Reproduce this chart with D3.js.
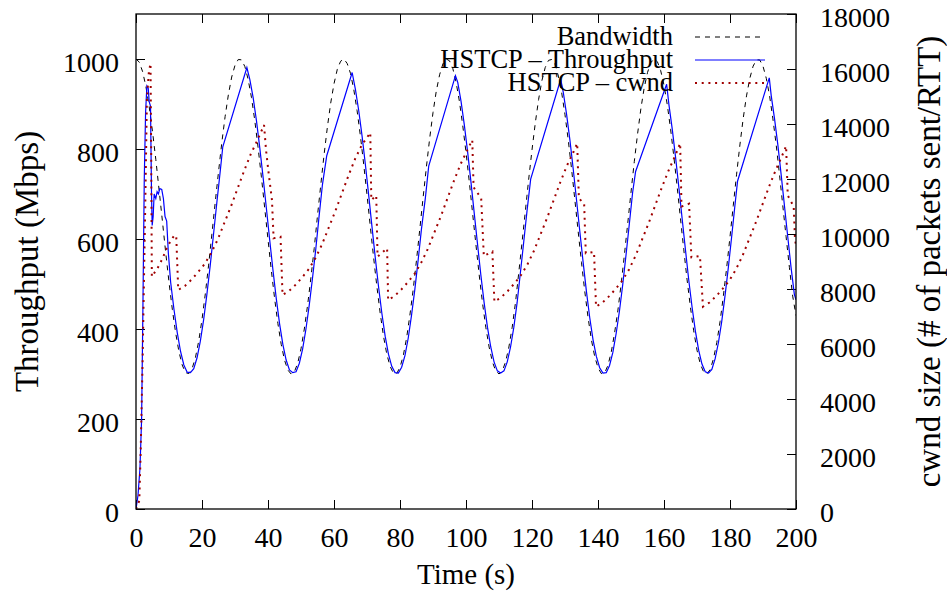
<!DOCTYPE html>
<html>
<head>
<meta charset="utf-8">
<script src="https://cdnjs.cloudflare.com/ajax/libs/d3/7.8.5/d3.min.js"></script>
<style>
    body { margin: 0; background: #fff; }
    text { font-family: "Liberation Serif", "Times New Roman", serif; fill: #000; }
</style>
</head>
<body>
<div id="chart"></div>
<script>
// bandwidth (Mbps), one value per second from t = 0 to t = 200
const bandwidth = [1000,993,972,939,894,839,777,709,640,570,504,444,392,350,320,303,301,312,336,373,421,478,542,611,681,749,814,872,921,960,986,999,
    998,983,954,914,863,803,738,669,599,531,468,412,366,331,309,300,305,324,356,400,453,514,579,652,721,788,849,902,945,977,995,
    1000,990,968,932,885,829,766,698,628,559,494,435,384,344,317,302,301,315,341,380,431,488,553,622,692,760,824,881,929,965,989,1000,
    996,979,948,906,853,793,727,657,588,520,458,404,360,327,307,300,307,327,360,404,459,526,594,663,733,798,858,910,952,981,997,
    999,988,962,925,876,819,755,686,616,548,483,425,376,339,314,301,302,319,348,390,440,499,565,634,704,772,834,890,936,970,992,1000,
    994,974,942,898,844,782,715,645,576,509,449,396,353,322,305,300,310,334,370,417,474,537,605,675,744,809,868,918,957,984,998,
    998,984,957,918,867,809,743,674,605,537,473,430];

// HSTCP throughput (Mbps): [time (s), value]
const throughput = [
    [0,0],[0.6,30],[1.2,90],[1.7,200],[2.1,450],[2.5,730],[2.9,880],[3.3,940],[3.7,935],[4.0,905],[4.4,895],[4.7,700],[4.9,630],[5.2,650],[5.5,700],[6.0,690],[6.4,705],[6.8,700],[7.2,712],[7.8,710],[8.3,690],[8.8,650],[9.3,640],[9.8,569],
    [10.5,504],[11.5,444],[12.5,392],[13.5,350],[14.5,320],[15.5,304],[16.5,303],[17.5,312],[18.5,336],[19.5,373],[20.5,421],[21.5,478],[22.5,542],[23.5,611],[24.5,681],[25.5,749],[26.3,805],
    [33.6,981],[34.5,954],[35.5,914],[36.5,863],[37.5,803],[38.5,738],[39.5,669],[40.5,599],[41.5,531],[42.5,468],[43.5,412],[44.5,366],[45.5,331],[46.5,309],[47.5,303],[48.5,305],[49.5,324],[50.5,356],[51.5,400],[52.5,453],[53.5,514],[54.5,579],[55.5,652],[56.5,721],[57.8,785],
    [65.5,970],[66.5,932],[67.5,885],[68.5,829],[69.5,766],[70.5,698],[71.5,628],[72.5,559],[73.5,494],[74.5,435],[75.5,384],[76.5,344],[77.5,317],[78.5,303],[79.5,302],[80.5,315],[81.5,341],[82.5,380],[83.5,431],[84.5,488],[85.5,553],[86.5,622],[87.7,692],[88.7,762],
    [96.8,963],[97.5,948],[98.5,906],[99.5,853],[100.5,793],[101.5,727],[102.5,657],[103.5,588],[104.5,520],[105.5,458],[106.5,404],[107.5,360],[108.5,327],[109.5,307],[110.5,302],[111.5,307],[112.5,327],[113.5,360],[114.5,404],[115.5,459],[116.5,526],[117.5,594],[118.5,663],[119.6,733],
    [128.7,955],[129.5,925],[130.5,876],[131.5,819],[132.5,755],[133.5,686],[134.5,616],[135.5,548],[136.5,483],[137.5,425],[138.5,376],[139.5,339],[140.5,314],[141.5,302],[142.5,303],[143.5,319],[144.5,348],[145.5,390],[146.5,440],[147.5,499],[148.5,565],[149.5,634],[150.5,704],[151.4,750],
    [160.8,944],[161.5,898],[162.5,844],[163.5,782],[164.5,715],[165.5,645],[166.5,576],[167.5,509],[168.5,449],[169.5,396],[170.5,353],[171.5,322],[172.5,305],[173.5,302],[174.5,310],[175.5,334],[176.5,370],[177.5,417],[178.5,474],[179.5,537],[180.5,605],[181.5,675],[182.3,729],
    [191.9,958],[192.5,918],[193.5,867],[194.5,809],[195.5,743],[196.5,674],[197.5,605],[198.5,537],[199.5,477],[200,465]
];

// HSTCP cwnd (packets sent / RTT): [time (s), value]
const cwnd = [
    [0,0],[1.0,300],[1.4,2000],[2.0,5400],[2.8,11000],[3.3,14900],[3.9,15900],[4.4,16200],[4.6,13000],[4.8,8450],[6.5,8750],[8,9100],[9.3,9480],[10.5,9750],[11.7,9964],[12.2,9900],
    [12.8,7964],[14.8,8110],[16.8,8340],[18.8,8610],[20.8,8910],[22.8,9310],[24.8,9810],[26.8,10410],[28.8,11010],[30.8,11660],[32.8,12310],[34.8,12910],[36.8,13410],[38.8,13964],
    [39.4,13054],[40.2,12207],[41.2,11236],[41.7,9843],[43.8,9900],
    [44.4,7782],[46.4,7930],[48.4,8160],[50.4,8430],[52.4,8730],[54.4,9130],[56.4,9630],[58.4,10230],[60.4,10830],[62.4,11480],[64.4,12130],[66.4,12730],[68.4,13230],[71.0,13684],
    [71.3,11236],[72.8,11400],[73.2,9176],[76.1,9480],
    [76.4,7600],[78.4,7750],[80.4,7980],[82.4,8250],[84.4,8550],[86.4,8950],[88.4,9450],[90.4,10050],[92.4,10650],[94.4,11300],[96.4,11950],[98.4,12550],[100.4,13050],[101.9,13418],
    [102.3,11700],[104.6,11300],[105.4,9200],[108.0,9357],
    [108.6,7538],[110.6,7690],[112.6,7920],[114.6,8190],[116.6,8490],[118.6,8890],[120.6,9390],[122.6,9990],[124.6,10590],[126.6,11240],[128.6,11890],[130.6,12490],[132.6,12990],[133.7,13298],
    [134.2,11300],[135.8,11100],[136.3,9300],[138.8,9350],
    [139.4,7356],[141.4,7510],[143.4,7740],[145.4,8010],[147.4,8310],[149.4,8710],[151.4,9210],[153.4,9810],[155.4,10410],[157.4,11060],[159.4,11710],[161.4,12310],[163.4,12850],[164.9,13298],
    [165.3,11000],[167.6,11100],[168.3,9150],[170.9,9200],
    [171.8,7356],[173.8,7510],[175.8,7740],[177.8,8010],[179.8,8310],[181.8,8710],[183.8,9210],[185.8,9810],[187.8,10410],[189.8,11060],[191.8,11710],[193.8,12310],[195.8,12850],[197.0,13200],
    [197.5,11400],[199.3,11000],[199.7,9800],[200,9600]
];

const xTicks = [0, 20, 40, 60, 80, 100, 120, 140, 160, 180, 200];
const yTicks = [0, 200, 400, 600, 800, 1000];
const y2Ticks = [0, 2000, 4000, 6000, 8000, 10000, 12000, 14000, 16000, 18000];
const legendLabels = ["Bandwidth", "HSTCP \u2013 Throughput", "HSTCP \u2013 cwnd"];

/* * * * * * * * * * * * * *
*      ThroughputVis       *
* * * * * * * * * * * * * */

class ThroughputVis {
    constructor(_parentElement) {
        this.parentElement = _parentElement;
        this.initVis();
    }

    initVis() {
        let vis = this;

        vis.margin = {top: 14, right: 151, bottom: 83, left: 136};
        vis.width = 947 - vis.margin.left - vis.margin.right;
        vis.height = 592 - vis.margin.top - vis.margin.bottom;

        vis.svg = d3.select("#" + vis.parentElement).append("svg")
            .attr("width", 947)
            .attr("height", 592);

        vis.g = vis.svg.append("g")
            .attr("transform", `translate(${vis.margin.left}, ${vis.margin.top})`);

        // scales
        vis.x = d3.scaleLinear().domain([0, 200]).range([0, vis.width]);
        vis.y = d3.scaleLinear().domain([0, 1100]).range([vis.height, 0]);
        vis.y2 = d3.scaleLinear().domain([0, 18000]).range([vis.height, 0]);

        vis.svg.append("defs").append("clipPath")
            .attr("id", "clip")
            .append("rect")
            .attr("width", vis.width)
            .attr("height", vis.height);

        vis.updateVis();
    }

    updateVis() {
        let vis = this;
        const fs = 28;

        // axes (gnuplot style: ticks point inward)
        let xAxis = vis.g.append("g")
            .attr("transform", `translate(0, ${vis.height})`)
            .call(d3.axisBottom(vis.x).tickValues(xTicks).tickSizeInner(-9).tickSizeOuter(0).tickPadding(18));
        vis.g.append("g")
            .call(d3.axisTop(vis.x).tickValues(xTicks).tickSizeInner(-9).tickSizeOuter(0).tickFormat(""));
        let yAxis = vis.g.append("g")
            .call(d3.axisLeft(vis.y).tickValues(yTicks).tickFormat(d3.format("d"))
                .tickSizeInner(-9).tickSizeOuter(0).tickPadding(17));
        let y2Axis = vis.g.append("g")
            .attr("transform", `translate(${vis.width}, 0)`)
            .call(d3.axisRight(vis.y2).tickValues(y2Ticks).tickFormat(d3.format("d"))
                .tickSizeInner(-9).tickSizeOuter(0).tickPadding(24));

        [xAxis, yAxis, y2Axis].forEach(a => {
            a.selectAll("text").style("font-size", fs + "px").style("font-family", "Liberation Serif");
        });
        yAxis.selectAll("text").attr("dy", "0.43em");
        y2Axis.selectAll("text").attr("dy", "0.45em");
        vis.g.selectAll(".domain").remove();
        vis.g.selectAll(".tick line").attr("stroke", "#000").attr("stroke-width", 1);

        // lines
        let lines = vis.g.append("g").attr("clip-path", "url(#clip)");

        let bwLine = d3.line()
            .x((d, i) => vis.x(i))
            .y(d => vis.y(d));
        let thrLine = d3.line()
            .x(d => vis.x(d[0]))
            .y(d => vis.y(d[1]));
        let cwLine = d3.line()
            .x(d => vis.x(d[0]))
            .y(d => vis.y2(d[1]));

        lines.append("path")
            .datum(bandwidth)
            .attr("fill", "none")
            .attr("stroke", "#000")
            .attr("stroke-width", 1)
            .attr("stroke-dasharray", "5,5")
            .attr("d", bwLine);

        lines.append("path")
            .datum(throughput)
            .attr("fill", "none")
            .attr("stroke", "#0000ff")
            .attr("stroke-width", 1.2)
            .attr("d", thrLine);

        lines.append("path")
            .datum(cwnd)
            .attr("fill", "none")
            .attr("stroke", "#a00000")
            .attr("stroke-width", 2)
            .attr("stroke-dasharray", "2,4.7")
            .attr("d", cwLine);

        // border
        vis.g.append("rect")
            .attr("width", vis.width)
            .attr("height", vis.height)
            .attr("fill", "none")
            .attr("stroke", "#000")
            .attr("stroke-width", 1.3);

        // legend
        let legend = vis.g.append("g").attr("class", "legend");
        const styles = [
            {stroke: "#000", width: 1, dash: "5,5"},
            {stroke: "#0000ff", width: 1.2, dash: null},
            {stroke: "#a00000", width: 2, dash: "2,4.7"}
        ];
        legendLabels.forEach((lab, i) => {
            let yy = 31 + i * 23;
            legend.append("text")
                .attr("x", 537)
                .attr("y", yy)
                .attr("text-anchor", "end")
                .style("font-size", "26.5px")
                .text(lab);
            legend.append("line")
                .attr("x1", 559).attr("x2", 629)
                .attr("y1", yy - 8).attr("y2", yy - 8)
                .attr("stroke", styles[i].stroke)
                .attr("stroke-width", styles[i].width)
                .attr("stroke-dasharray", styles[i].dash);
        });

        // axis titles
        vis.svg.append("text")
            .attr("x", vis.margin.left + vis.width / 2)
            .attr("y", 584)
            .attr("text-anchor", "middle")
            .style("font-size", "29px")
            .text("Time (s)");

        vis.svg.append("text")
            .attr("transform", `translate(38, ${vis.margin.top + vis.height / 2}) rotate(-90)`)
            .attr("text-anchor", "middle")
            .style("font-size", "33px")
            .text("Throughput (Mbps)");

        vis.svg.append("text")
            .attr("transform", `translate(940, ${vis.margin.top + vis.height / 2}) rotate(-90)`)
            .attr("text-anchor", "middle")
            .style("font-size", "33px")
            .text("cwnd size (# of packets sent/RTT)");
    }
}

let throughputVis = new ThroughputVis("chart");
</script>
</body>
</html>
